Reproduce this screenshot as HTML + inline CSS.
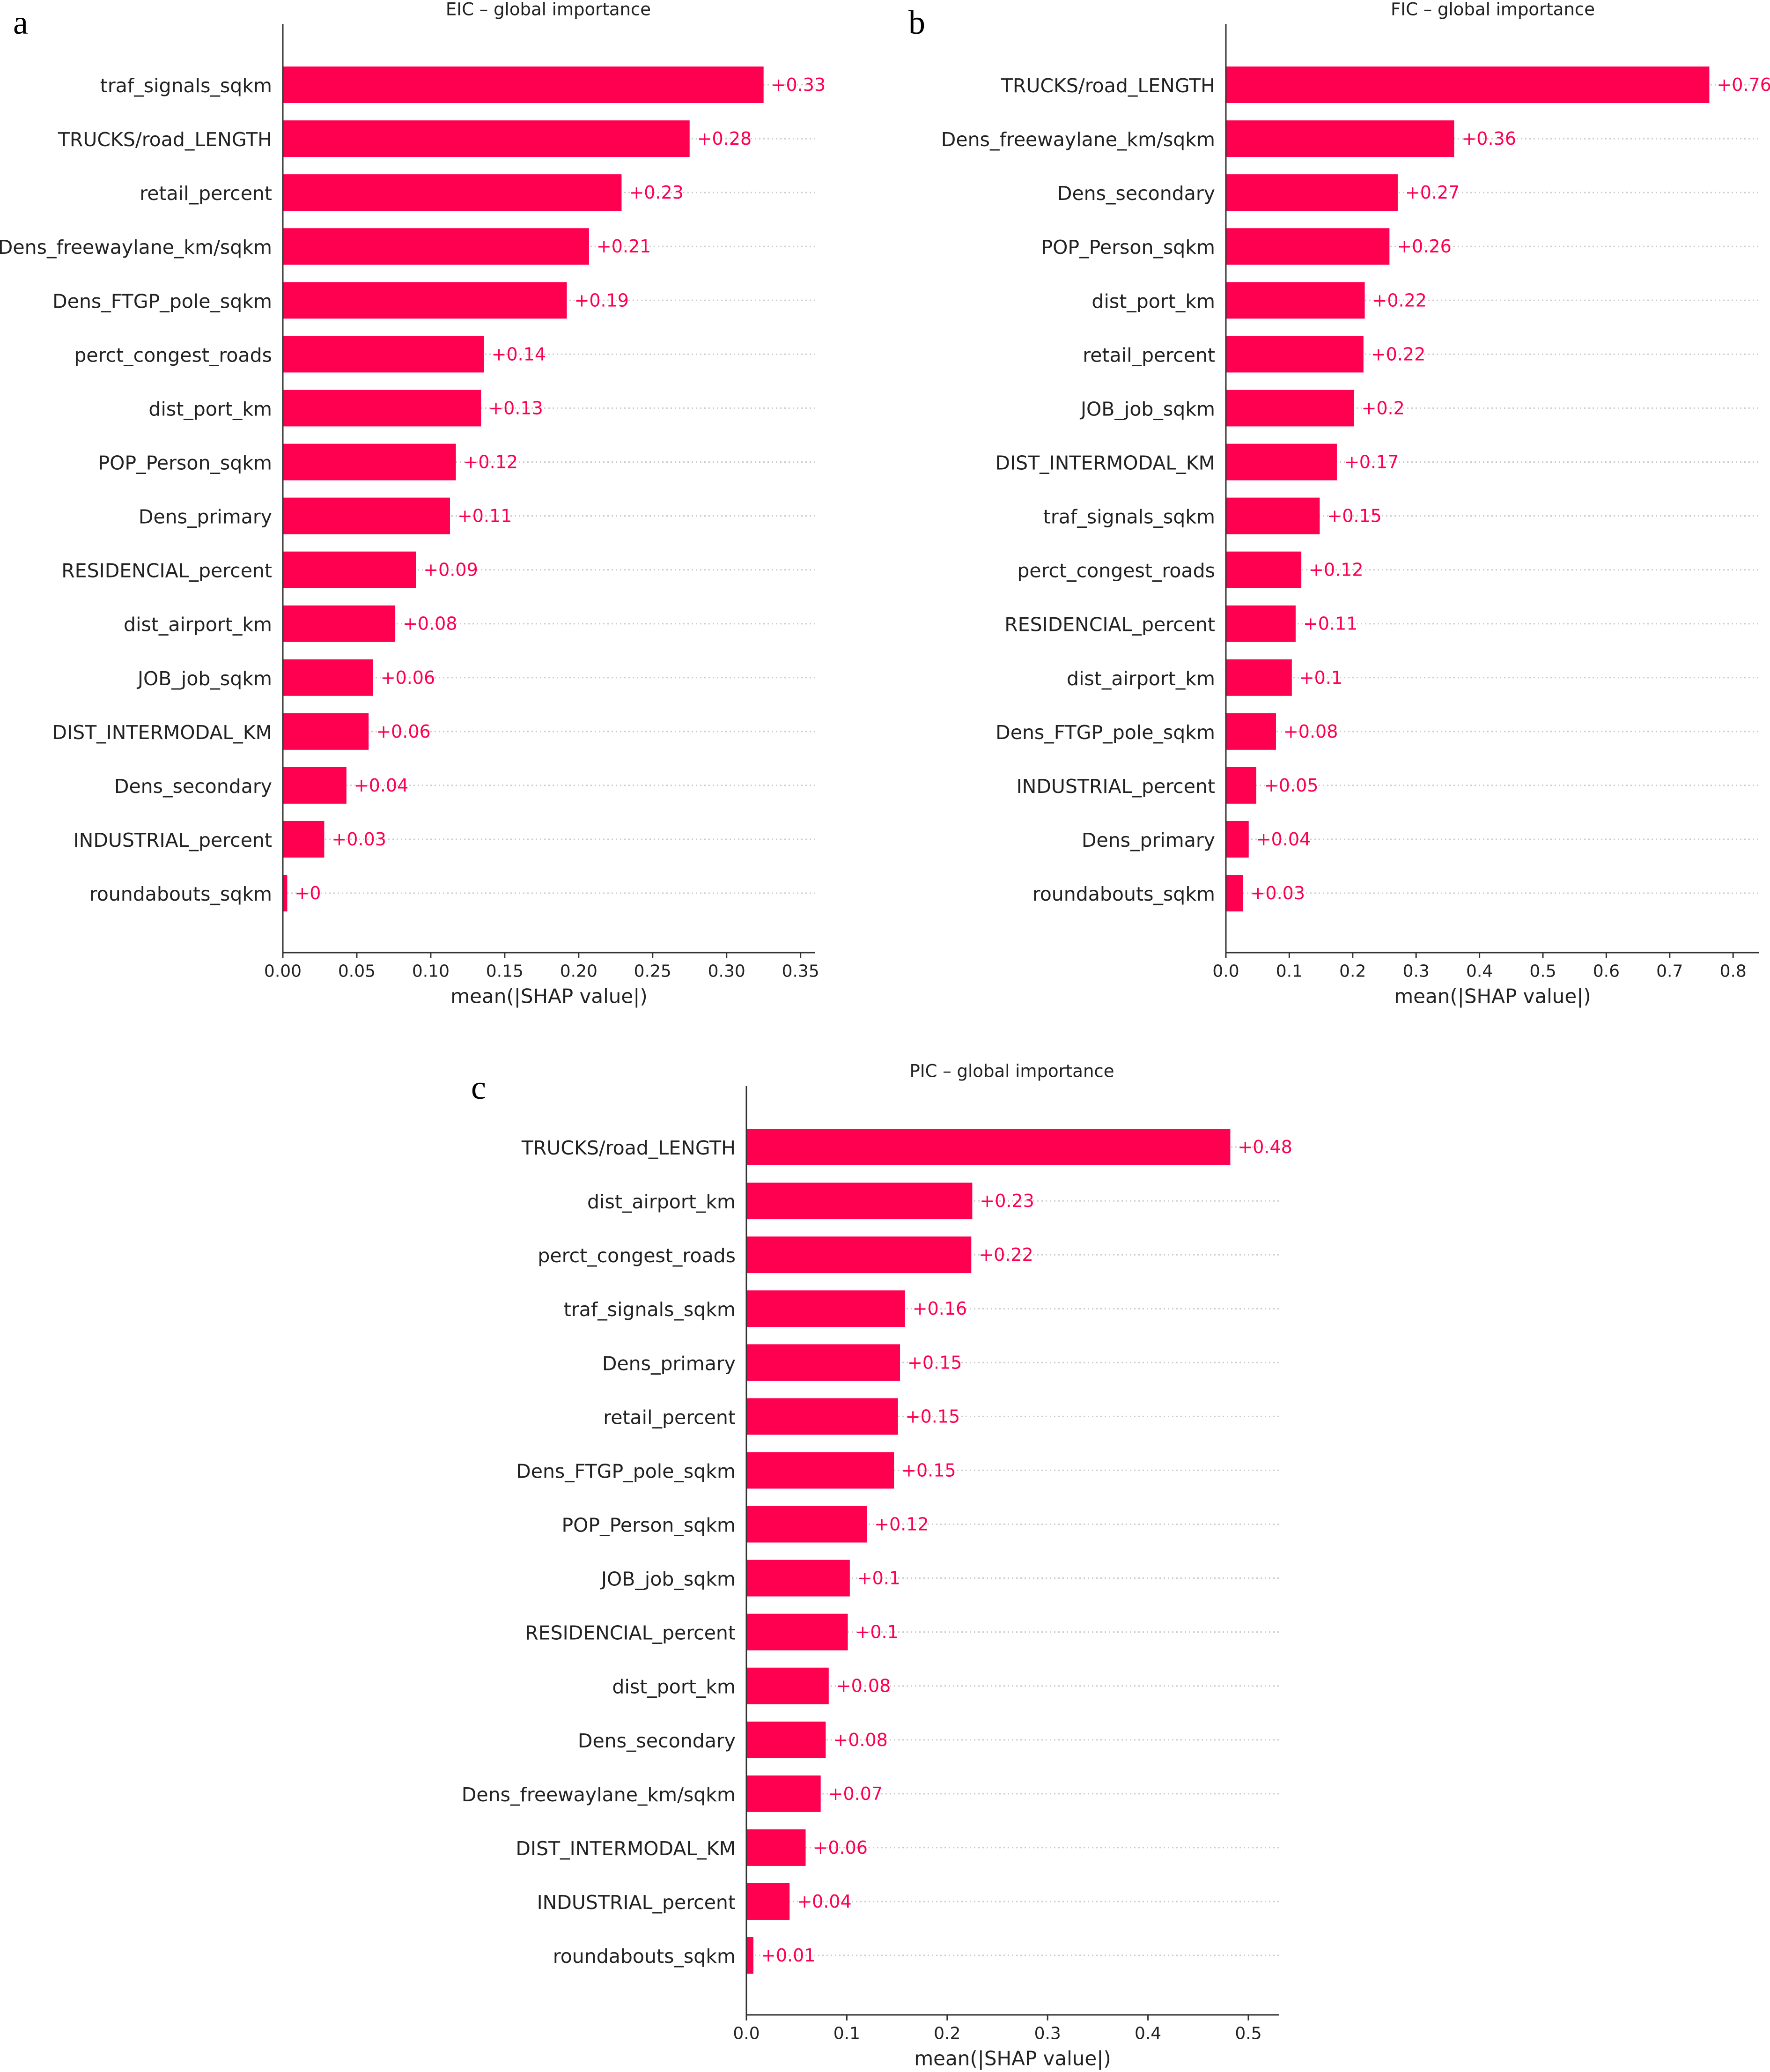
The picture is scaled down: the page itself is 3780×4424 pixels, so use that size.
<!DOCTYPE html>
<html><head><meta charset="utf-8"><style>
html,body{margin:0;padding:0;background:#fff;}
svg{display:block;font-family:"DejaVu Sans","Liberation Sans",sans-serif;}
</style></head><body>
<svg id="fig" xmlns="http://www.w3.org/2000/svg" width="3780" height="4424" viewBox="0 0 3780 4424"></svg>
<script>
// Panel a (EIC)
const aCategories = ["traf_signals_sqkm","TRUCKS/road_LENGTH","retail_percent","Dens_freewaylane_km/sqkm","Dens_FTGP_pole_sqkm","perct_congest_roads","dist_port_km","POP_Person_sqkm","Dens_primary","RESIDENCIAL_percent","dist_airport_km","JOB_job_sqkm","DIST_INTERMODAL_KM","Dens_secondary","INDUSTRIAL_percent","roundabouts_sqkm"];
const aValues = [0.325,0.275,0.229,0.207,0.192,0.136,0.134,0.117,0.113,0.090,0.076,0.061,0.058,0.043,0.028,0.003];
const aTicks = ["0.00","0.05","0.10","0.15","0.20","0.25","0.30","0.35"];
// Panel b (FIC)
const bCategories = ["TRUCKS/road_LENGTH","Dens_freewaylane_km/sqkm","Dens_secondary","POP_Person_sqkm","dist_port_km","retail_percent","JOB_job_sqkm","DIST_INTERMODAL_KM","traf_signals_sqkm","perct_congest_roads","RESIDENCIAL_percent","dist_airport_km","Dens_FTGP_pole_sqkm","INDUSTRIAL_percent","Dens_primary","roundabouts_sqkm"];
const bValues = [0.7625,0.360,0.271,0.258,0.219,0.217,0.202,0.175,0.148,0.119,0.110,0.104,0.079,0.048,0.036,0.027];
const bTicks = ["0.0","0.1","0.2","0.3","0.4","0.5","0.6","0.7","0.8"];
// Panel c (PIC)
const cCategories = ["TRUCKS/road_LENGTH","dist_airport_km","perct_congest_roads","traf_signals_sqkm","Dens_primary","retail_percent","Dens_FTGP_pole_sqkm","POP_Person_sqkm","JOB_job_sqkm","RESIDENCIAL_percent","dist_port_km","Dens_secondary","Dens_freewaylane_km/sqkm","DIST_INTERMODAL_KM","INDUSTRIAL_percent","roundabouts_sqkm"];
const cValues = [0.482,0.225,0.224,0.158,0.153,0.151,0.147,0.120,0.103,0.101,0.082,0.079,0.074,0.059,0.043,0.007];
const cTicks = ["0.0","0.1","0.2","0.3","0.4","0.5"];

const NS = "http://www.w3.org/2000/svg";
const svg = document.getElementById('fig');
function mk(tag, attrs, parent){
  const e = document.createElementNS(NS, tag);
  for (const k in attrs) e.setAttribute(k, attrs[k]);
  (parent||svg).appendChild(e);
  return e;
}
const RED = "#ff0051";

function panel(cfg){
  const g = mk('g', {});
  
  
  const x = v => cfg.x0 + v * cfg.pxPerUnit;
  const y = i => cfg.y0 + i * cfg.step;
  cfg.cats.forEach((c,i)=>{
    const l = mk('line', {x1:cfg.x0, x2:cfg.xEnd, y1:y(i), y2:y(i), stroke:'#cccccc', 'stroke-width':3, 'stroke-dasharray':'3,6'}, g);
    
    
  });
  cfg.cats.forEach((c,i)=>{
    const v = cfg.vals[i];
    const r = mk('rect', {x:cfg.x0, y:y(i)-39, width:Math.max(v*cfg.pxPerUnit,1), height:78, fill:RED}, g);
    
    
    const t = mk('text', {x:x(v)+16, y:y(i), fill:RED, 'font-size':38, 'dominant-baseline':'central'}, g);
    t.textContent = '+' + String(Number(v.toFixed(2)));
    
    
    const lb = mk('text', {x:cfg.x0-23, y:y(i)+2, fill:'#222', 'font-size':41, 'text-anchor':'end', 'dominant-baseline':'central'}, g);
    lb.textContent = c;
    
    
  });
  const ya = mk('line', {x1:cfg.x0, x2:cfg.x0, y1:cfg.axTop, y2:cfg.axBot, stroke:'#333', 'stroke-width':3}, g);
  
  
  const xa = mk('line', {x1:cfg.x0, x2:cfg.xEnd, y1:cfg.axBot, y2:cfg.axBot, stroke:'#333', 'stroke-width':3}, g);
  
  
  cfg.ticks.forEach(tk=>{
    const tx = x(parseFloat(tk));
    const tl = mk('line', {x1:tx, x2:tx, y1:cfg.axBot, y2:cfg.axBot+12, stroke:'#333', 'stroke-width':3}, g);
    
    
    const tt = mk('text', {x:tx, y:cfg.axBot+40, fill:'#222', 'font-size':36, 'text-anchor':'middle', 'dominant-baseline':'central'}, g);
    tt.textContent = tk;
    
    
  });
  const xl = mk('text', {x:(cfg.x0+cfg.xEnd)/2, y:cfg.axBot+93, fill:'#222', 'font-size':42, 'text-anchor':'middle', 'dominant-baseline':'central'}, g);
  xl.textContent = 'mean(|SHAP value|)';
  
  
  const ti = mk('text', {x:cfg.titleX, y:cfg.titleY, fill:'#222', 'font-size':37, 'text-anchor':'middle', 'dominant-baseline':'central'}, g);
  ti.textContent = cfg.title;
  
  
  const pl = mk('text', {x:cfg.letX, y:cfg.letY, fill:'#000', 'font-size':72, 'font-family':'"Liberation Serif", serif', 'dominant-baseline':'central'}, g);
  pl.textContent = cfg.letter;
  
  
}

panel({id:'eic', cats:aCategories, vals:aValues, ticks:aTicks, x0:604, pxPerUnit:3159, xEnd:1741, y0:181, step:115.07, axTop:51, axBot:2034, title:'EIC \u2013 global importance', titleX:1171, titleY:20, letter:'a', letX:28, letY:48});
panel({id:'fic', cats:bCategories, vals:bValues, ticks:bTicks, x0:2618, pxPerUnit:1354, xEnd:3757, y0:181, step:115.07, axTop:51, axBot:2034, title:'FIC \u2013 global importance', titleX:3188, titleY:20, letter:'b', letX:1940, letY:48});
panel({id:'pic', cats:cCategories, vals:cValues, ticks:cTicks, x0:1594, pxPerUnit:2144, xEnd:2731, y0:2449, step:115.07, axTop:2319, axBot:4302, title:'PIC \u2013 global importance', titleX:2161, titleY:2287, letter:'c', letX:1006, letY:2322});
</script>
</body></html>
